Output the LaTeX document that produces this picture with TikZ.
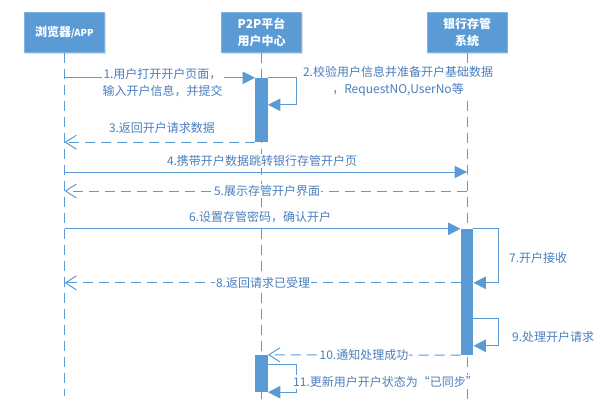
\documentclass[tikz,border=0pt]{standalone}
\usepackage{fontspec}
\setmainfont{Noto Sans CJK SC}
\usetikzlibrary{shapes,arrows.meta,positioning,calc,shadows}
\definecolor{boxblue}{RGB}{91,155,213}
\definecolor{boxedge}{RGB}{130,178,224}
\definecolor{lineblue}{RGB}{91,155,213}
\definecolor{textblue}{RGB}{74,126,190}

\begin{document}
\begin{tikzpicture}[x=1pt,y=-1pt,
    actor/.style={draw=boxedge,fill=boxblue,text=white,minimum width=80pt,minimum height=40pt,
                  align=center,font=\bfseries\fontsize{12}{17}\selectfont,
                  drop shadow={opacity=0.25,shadow xshift=1pt,shadow yshift=-2pt}},
    lifeline/.style={draw=lineblue,line width=1pt,dash pattern=on 10pt off 6pt},
    activation/.style={fill=lineblue,draw=none,minimum width=12.5pt,inner sep=0pt},
    call/.style={draw=lineblue,line width=1pt,-{Triangle[length=12.5pt,width=12.5pt]}},
    reply/.style={draw=lineblue,line width=1pt,dash pattern=on 10pt off 6pt,
                  -{Straight Barb[length=11pt,width=14pt]}},
    msg/.style={text=textblue,fill=white,inner sep=1pt,align=center,
                font=\fontsize{12}{17}\selectfont}]
    \useasboundingbox (0,0) rectangle (613,417);

    % participants
    \node[actor] (browser) at (64.5,32.5) {浏览器{\fontsize{9.5}{11}\selectfont/APP}};
    \node[actor] (platform) at (261.5,32.5) {P2P平台\\用户中心};
    \node[actor] (bank) at (467,32.5) {银行存管\\系统};

    \draw[lifeline] (browser.south) -- ++(0,343);
    \draw[lifeline] (platform.south) -- ++(0,347);
    \draw[lifeline] (bank.south) -- ++(0,347);

    % activations
    \node[activation,minimum height=64pt] (platformact) at (261.5,110) {};
    \node[activation,minimum height=126pt] (bankact) at (467,292) {};
    \node[activation,minimum height=37pt] (platformsync) at (261.5,373.5) {};

    % messages
    \draw[call] (browser |- platformact.north) -- (platformact.north west);
    \node[msg] at (162.5,83) {1.用户打开开户页面，\\输入开户信息，并提交};

    \draw[call] (platformact.north east) -- ++(29,0) |- ($(platformact.north east)+(0,27)$);
    \node[msg] at (398,81.5) {2.校验用户信息并准备开户基础数据\\，RequestNO,UserNo等};

    \draw[reply] (platformact.south west) -- (browser |- platformact.south);
    \node[msg] at (162,128) {3.返回开户请求数据};

    \coordinate (openpage) at (0,172);
    \draw[call] (browser |- openpage) -- (bank |- openpage);
    \node[msg] at (262,161) {4.携带开户数据跳转银行存管开户页};

    \coordinate (showpage) at (0,191);
    \draw[reply] (bank |- showpage) -- (browser |- showpage);
    \node[msg] at (267,191) {5.展示存管开户界面};

    \draw[call] (browser |- bankact.north) -- (bankact.north west);
    \node[msg] at (260,217) {6.设置存管密码，确认开户};

    \draw[call] (bankact.north east) -- ++(25,0) |- ($(bankact.north east)+(0,54)$);
    \node[msg,anchor=west] at (508,258) {7.开户接收};

    \coordinate (accepted) at ($(bankact.north west)+(0,54)$);
    \draw[reply] (accepted) -- (browser |- accepted);
    \node[msg] at (263,283) {8.返回请求已受理};

    \draw[call] ($(bankact.north east)+(0,90)$) -- ++(25,0) |- ($(bankact.north east)+(0,117)$);
    \node[msg,anchor=west] at (511,337) {9.处理开户请求};

    \draw[reply] (bankact.south west) -- (platformsync.north east);
    \node[msg] at (364,355) {10.通知处理成功};

    \draw[call] ($(platformsync.north east)+(0,10)$) -- ++(29,0) |- (platformsync.south east);
    \node[msg,anchor=west] at (292,382) {11.更新用户开户状态为“已同步”};
\end{tikzpicture}
\end{document}
